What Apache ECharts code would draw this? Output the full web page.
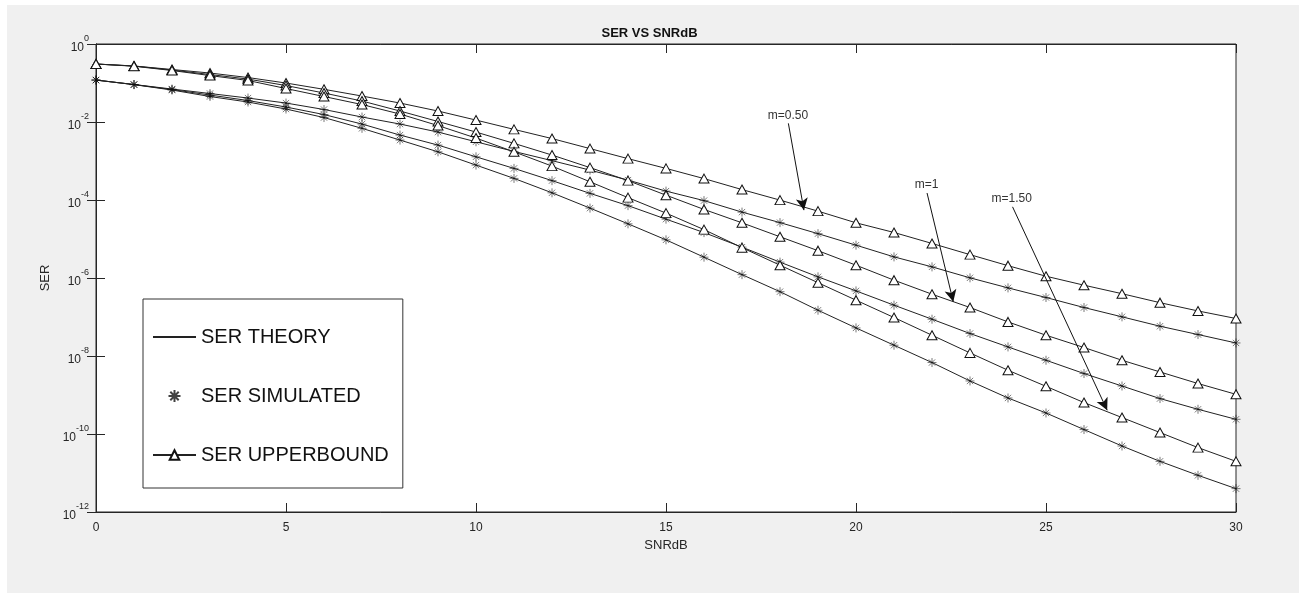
<!DOCTYPE html>
<html style="height: 100%">
<head>
    <meta charset="utf-8">
    <style>
        body { margin: 0; background: #fff; }
        #bg { position: absolute; left: 7px; top: 5px; right: 0; bottom: 0; background: #f0f0f0; }
        #container { position: absolute; left: 0; top: 0; width: 1299px; height: 593px; }
    </style>
</head>
<body>
    <div id="bg"></div>
    <div id="container"></div>
    <script src="https://cdn.jsdelivr.net/npm/echarts@6.0.0/dist/echarts.min.js"></script>
    <script>
        const snr = [0, 1, 2, 3, 4, 5, 6, 7, 8, 9, 10, 11, 12, 13, 14, 15, 16, 17, 18, 19, 20, 21, 22, 23, 24, 25, 26, 27, 28, 29, 30];

        // theory values, the simulated stars sit on them
        const theory05 = [1.19e-1, 9.13e-2, 7.00e-2, 5.37e-2, 4.11e-2, 3.06e-2, 2.09e-2, 1.34e-2, 8.86e-3, 5.52e-3, 3.11e-3, 1.76e-3, 1.02e-3, 5.84e-4, 3.24e-4, 1.69e-4, 9.64e-5, 4.89e-5, 2.63e-5, 1.37e-5, 6.95e-6, 3.48e-6, 1.93e-6, 1.01e-6, 5.58e-7, 3.16e-7, 1.75e-7, 1.01e-7, 5.80e-8, 3.55e-8, 2.16e-8];
        const theory10 = [1.19e-1, 9.13e-2, 6.80e-2, 4.91e-2, 3.55e-2, 2.42e-2, 1.55e-2, 8.86e-3, 4.62e-3, 2.56e-3, 1.28e-3, 6.46e-4, 3.14e-4, 1.48e-4, 7.17e-5, 3.23e-5, 1.46e-5, 6.18e-6, 2.55e-6, 1.07e-6, 4.67e-7, 2.01e-7, 8.78e-8, 3.77e-8, 1.71e-8, 7.78e-9, 3.55e-9, 1.70e-9, 8.10e-10, 4.30e-10, 2.38e-10];
        const theory15 = [1.19e-1, 9.08e-2, 6.60e-2, 4.50e-2, 3.25e-2, 2.15e-2, 1.30e-2, 6.87e-3, 3.44e-3, 1.72e-3, 7.85e-4, 3.58e-4, 1.53e-4, 6.19e-5, 2.45e-5, 9.51e-6, 3.42e-6, 1.22e-6, 4.46e-7, 1.49e-7, 5.25e-8, 1.89e-8, 6.80e-9, 2.29e-9, 8.39e-10, 3.46e-10, 1.30e-10, 4.92e-11, 1.99e-11, 8.71e-12, 3.97e-12];

        const upper05 = [3.07e-1, 2.73e-1, 2.22e-1, 1.80e-1, 1.38e-1, 9.98e-2, 6.88e-2, 4.63e-2, 3.06e-2, 1.91e-2, 1.12e-2, 6.47e-3, 3.76e-3, 2.08e-3, 1.15e-3, 6.46e-4, 3.54e-4, 1.85e-4, 9.93e-5, 5.18e-5, 2.60e-5, 1.47e-5, 7.69e-6, 3.97e-6, 2.07e-6, 1.11e-6, 6.54e-7, 3.96e-7, 2.33e-7, 1.43e-7, 9.15e-8];
        const upper10 = [3.07e-1, 2.73e-1, 2.15e-1, 1.65e-1, 1.26e-1, 8.61e-2, 5.53e-2, 3.45e-2, 1.91e-2, 1.03e-2, 5.52e-3, 2.83e-3, 1.42e-3, 6.77e-4, 3.14e-4, 1.33e-4, 5.73e-5, 2.60e-5, 1.14e-5, 5.02e-6, 2.13e-6, 8.79e-7, 3.84e-7, 1.75e-7, 7.48e-8, 3.41e-8, 1.65e-8, 7.78e-9, 3.90e-9, 1.97e-9, 1.04e-9];
        const upper15 = [3.07e-1, 2.69e-1, 2.09e-1, 1.55e-1, 1.16e-1, 7.21e-2, 4.50e-2, 2.80e-2, 1.60e-2, 8.10e-3, 3.87e-3, 1.72e-3, 7.40e-4, 2.93e-4, 1.15e-4, 4.61e-5, 1.74e-5, 6.00e-6, 2.13e-6, 7.58e-7, 2.70e-7, 9.70e-8, 3.41e-8, 1.20e-8, 4.31e-9, 1.67e-9, 6.39e-10, 2.64e-10, 1.09e-10, 4.48e-11, 1.99e-11];

        // text + arrow (from, to) in data units
        const notes = [
            { text: 'm=0.50', from: [18.22, 9.23e-3], to: [18.63, 5.50e-5] },
            { text: 'm=1', from: [21.87, 1.51e-4], to: [22.56, 2.45e-7] },
            { text: 'm=1.50', from: [24.12, 6.68e-5], to: [26.61, 4.07e-10] }
        ];

        const pairs = arr => snr.map((x, i) => [x, arr[i]]);
        const ink = '#262626';
        const lineColor = '#222';
        const star = 'path://M0,-5L0,5M-5,0L5,0M-3.5,-3.5L3.5,3.5M-3.5,3.5L3.5,-3.5';

        const theorySeries = (arr, withNotes) => ({
            name: 'SER THEORY',
            type: 'line',
            data: pairs(arr),
            symbol: 'none',
            lineStyle: { color: lineColor, width: 1 },
            itemStyle: { color: lineColor },
            z: 2,
            markLine: withNotes ? {
                silent: true,
                symbol: ['none', 'arrow'],
                symbolSize: [9, 12],
                lineStyle: { color: '#111', width: 1, type: 'solid' },
                label: {
                    show: true,
                    position: 'start',
                    distance: 2,
                    color: '#333',
                    fontSize: 12
                },
                data: notes.map(n => [
                    { coord: n.from, label: { formatter: n.text } },
                    { coord: n.to }
                ])
            } : undefined
        });

        const simSeries = arr => ({
            name: 'SER SIMULATED',
            type: 'scatter',
            data: pairs(arr),
            symbol: star,
            symbolSize: 9,
            itemStyle: { color: '#000', borderColor: '#111', borderWidth: 0.7 },
            z: 3
        });

        const upperSeries = arr => ({
            name: 'SER UPPERBOUND',
            type: 'line',
            data: pairs(arr),
            symbol: 'triangle',
            symbolSize: [10, 9],
            showAllSymbol: true,
            lineStyle: { color: lineColor, width: 1 },
            itemStyle: { color: '#fff', borderColor: '#111', borderWidth: 1 },
            z: 4
        });

        const dom = document.getElementById('container');
        const myChart = echarts.init(dom, null, { renderer: 'canvas' });

        const xCommon = {
            type: 'value',
            min: 0,
            max: 30,
            interval: 5,
            splitLine: { show: false },
            axisLine: { show: true, onZero: false, lineStyle: { color: ink, width: 1 } },
            axisTick: { show: true, inside: true, length: 9, lineStyle: { color: ink } }
        };
        const yCommon = {
            type: 'log',
            logBase: 10,
            min: 1e-12,
            max: 1,
            interval: 2,
            splitLine: { show: false },
            axisLine: { show: true, lineStyle: { color: ink, width: 1 } },
            axisTick: { show: true, inside: true, length: 9, lineStyle: { color: ink } },
            minorTick: { show: false }
        };

        const option = {
            animation: false,
            textStyle: { fontFamily: 'Liberation Sans, Arial, sans-serif' },
            title: {
                text: 'SER VS SNRdB',
                left: 'center',
                top: 22,
                textStyle: { fontSize: 13, fontWeight: 'bold', color: '#111' }
            },
            grid: {
                left: 96,
                top: 44,
                width: 1140,
                height: 468,
                show: true,
                backgroundColor: '#fff',
                borderColor: ink,
                borderWidth: 1
            },
            legend: {
                orient: 'vertical',
                left: 143,
                top: 299,
                padding: [28, 14, 23, 9],
                itemGap: 39,
                itemWidth: 43,
                itemHeight: 12,
                borderColor: '#333',
                borderWidth: 1,
                backgroundColor: '#fff',
                textStyle: { fontSize: 20, color: '#111' },
                data: [
                    { name: 'SER THEORY', itemStyle: { opacity: 0 } },
                    'SER SIMULATED',
                    'SER UPPERBOUND'
                ]
            },
            xAxis: [
                Object.assign({}, xCommon, {
                    position: 'bottom',
                    name: 'SNRdB',
                    nameLocation: 'middle',
                    nameGap: 27,
                    nameTextStyle: { fontSize: 13, color: ink },
                    axisLabel: { fontSize: 12, color: ink, margin: 10 }
                }),
                Object.assign({}, xCommon, { position: 'top', axisLabel: { show: false } })
            ],
            yAxis: [
                Object.assign({}, yCommon, {
                    position: 'left',
                    name: 'SER',
                    nameLocation: 'middle',
                    nameGap: 37,
                    nameTextStyle: { fontSize: 13, color: ink },
                    axisLabel: {
                        margin: 7,
                        formatter: v => '{b|10}{e|' + Math.round(Math.log10(v)) + '}',
                        rich: {
                            b: { fontSize: 12, color: ink, lineHeight: 19, verticalAlign: 'bottom' },
                            e: { fontSize: 9, color: ink, lineHeight: 10, verticalAlign: 'top' }
                        }
                    }
                }),
                Object.assign({}, yCommon, { position: 'right', axisLabel: { show: false } })
            ],
            series: [
                theorySeries(theory05, true),
                theorySeries(theory10, false),
                theorySeries(theory15, false),
                simSeries(theory05),
                simSeries(theory10),
                simSeries(theory15),
                upperSeries(upper05),
                upperSeries(upper10),
                upperSeries(upper15)
            ]
        };

        myChart.setOption(option);
    </script>
</body>
</html>
